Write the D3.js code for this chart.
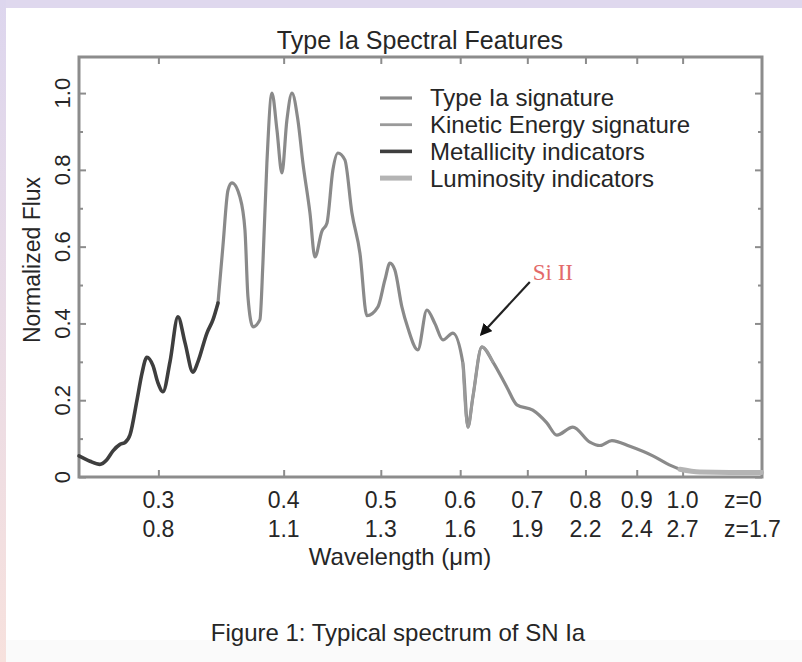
<!DOCTYPE html>
<html>
<head>
<meta charset="utf-8">
<script src="https://cdn.jsdelivr.net/npm/d3@7"></script>
<style>
  html, body { margin: 0; padding: 0; }
  body { width: 802px; height: 662px; overflow: hidden; }
  svg text { font-family: "Liberation Sans", Arial, Helvetica, sans-serif; fill: #262626; }
</style>
</head>
<body>
<svg id="chart" width="802" height="662"></svg>
<script>
// Rest-frame wavelength (µm) and normalized flux of the template spectrum
const wavelength = [
  0.250, 0.2564, 0.2623, 0.2665, 0.2703, 0.2747, 0.2779, 0.2811, 0.2856, 0.2889,
  0.2922, 0.2963, 0.2997, 0.3032, 0.3081, 0.3138, 0.3189, 0.3248, 0.3285, 0.3354,
  0.3401, 0.3440, 0.3479, 0.3520, 0.3552, 0.3618, 0.3660, 0.3685, 0.3728, 0.3788,
  0.3814, 0.3849, 0.3894, 0.3939, 0.3984, 0.4030, 0.4077, 0.4133, 0.4181, 0.4249,
  0.4298, 0.4367, 0.4418, 0.4479, 0.4531, 0.4604, 0.4679, 0.4766, 0.4843, 0.4967,
  0.5047, 0.5106, 0.5164, 0.5248, 0.5321, 0.5444, 0.5558, 0.5661, 0.5766, 0.5900,
  0.6037, 0.6107, 0.6177, 0.6306, 0.6467, 0.6679, 0.6834, 0.7089, 0.7321, 0.7491,
  0.7771, 0.8081, 0.8268, 0.8500, 0.8859, 0.9339, 0.9645, 0.9937, 1.0403, 1.1147,
  1.1990
];
const flux = [
  0.055, 0.041, 0.033, 0.045, 0.068, 0.085, 0.090, 0.110, 0.200, 0.270,
  0.312, 0.290, 0.245, 0.222, 0.300, 0.417, 0.350, 0.273, 0.300, 0.375,
  0.410, 0.453, 0.600, 0.747, 0.766, 0.729, 0.643, 0.470, 0.391, 0.410,
  0.557, 0.818, 1.000, 0.904, 0.792, 0.930, 1.000, 0.930, 0.818, 0.688,
  0.573, 0.640, 0.661, 0.800, 0.844, 0.826, 0.688, 0.583, 0.420, 0.443,
  0.513, 0.557, 0.539, 0.443, 0.388, 0.331, 0.435, 0.400, 0.357, 0.375,
  0.297, 0.130, 0.208, 0.339, 0.300, 0.234, 0.188, 0.174, 0.141, 0.109,
  0.130, 0.091, 0.082, 0.095, 0.080, 0.055, 0.035, 0.020, 0.013, 0.012,
  0.012
];

// Axis ticks
const xTickValues = [0.3, 0.4, 0.5, 0.6, 0.7, 0.8, 0.9, 1.0];
const xTickLabelsZ0 = ["0.3", "0.4", "0.5", "0.6", "0.7", "0.8", "0.9", "1.0"];
const xTickLabelsZ17 = ["0.8", "1.1", "1.3", "1.6", "1.9", "2.2", "2.4", "2.7"];
const redshiftLabels = ["z=0", "z=1.7"];
const yTickValues = [0, 0.2, 0.4, 0.6, 0.8, 1.0];
const yTickLabels = ["0", "0.2", "0.4", "0.6", "0.8", "1.0"];
const yMinorTickValues = [0.1, 0.3, 0.5, 0.7, 0.9];

// Spectral regions highlighted along the curve (wavelength ranges, µm)
const seriesNames = ["Type Ia signature", "Kinetic Energy signature", "Metallicity indicators", "Luminosity indicators"];
const seriesRanges = [[0.344, 0.995], [0.598, 0.650], [0.250, 0.344], [0.9937, 1.199]];
const seriesColors = ["#8a8a8a", "#9a9a9a", "#3e3e3e", "#b4b4b4"];
const seriesWidths = [3.2, 2.8, 3.6, 5];

// Si II annotation: arrow tail / tip in data units
const annotationText = "Si II";
const annotationTail = [0.704, 0.508];
const annotationTip = [0.630, 0.372];

const titleText = "Type Ia Spectral Features";
const xTitle = "Wavelength (\u03bcm)";
const yTitle = "Normalized Flux";
const captionText = "Figure 1: Typical spectrum of SN Ia";

const W = 802, H = 662;
const plot = { left: 79, right: 762, top: 57, bottom: 477 };

const svg = d3.select("#chart");

// Page backdrop: lavender band top/left, white sheet
const defs = svg.append("defs");
const grad = defs.append("linearGradient").attr("id", "leftBand")
  .attr("x1", 0).attr("y1", 0).attr("x2", 0).attr("y2", 1);
grad.append("stop").attr("offset", "0%").attr("stop-color", "#ddd6ee");
grad.append("stop").attr("offset", "100%").attr("stop-color", "#f7e1dd");
const marker = defs.append("marker").attr("id", "arrowHead")
  .attr("viewBox", "0 0 10 10").attr("refX", 8).attr("refY", 5)
  .attr("markerWidth", 5.5).attr("markerHeight", 5.5).attr("orient", "auto")
  .attr("markerUnits", "strokeWidth");
marker.append("path").attr("d", "M0,0 L10,5 L0,10 Z").attr("fill", "#111");

svg.append("rect").attr("width", W).attr("height", H).attr("fill", "#ffffff");
svg.append("rect").attr("x", 0).attr("y", 0).attr("width", W).attr("height", 8).attr("fill", "#dfd8ee");
svg.append("rect").attr("x", 0).attr("y", 0).attr("width", 6).attr("height", H).attr("fill", "url(#leftBand)");
svg.append("rect").attr("x", 6).attr("y", 640).attr("width", W - 6).attr("height", 22).attr("fill", "#fafafa");

// Scales
const x = d3.scaleLog().domain([0.25, 1.2]).range([plot.left, plot.right]);
const y = d3.scaleLinear().domain([0, 1.094]).range([plot.bottom, plot.top]);

const frameColor = "#8c8c8c";

// Axes with inward ticks on all four sides
const axisBottom = d3.axisBottom(x).tickValues(xTickValues).tickSize(-7).tickFormat("");
const axisTop = d3.axisTop(x).tickValues(xTickValues).tickSize(-7).tickFormat("");
const axisLeft = d3.axisLeft(y).tickValues(yTickValues).tickSize(-7).tickFormat("");
const axisRight = d3.axisRight(y).tickValues(yTickValues).tickSize(-7).tickFormat("");
const axisLeftMinor = d3.axisLeft(y).tickValues(yMinorTickValues).tickSize(-4).tickFormat("");
const axisRightMinor = d3.axisRight(y).tickValues(yMinorTickValues).tickSize(-4).tickFormat("");

function styleAxis(g) {
  g.selectAll("path.domain").remove();
  g.selectAll("line").attr("stroke", frameColor).attr("stroke-width", 2);
}
svg.append("g").attr("transform", `translate(0,${plot.bottom})`).call(axisBottom).call(styleAxis);
svg.append("g").attr("transform", `translate(0,${plot.top})`).call(axisTop).call(styleAxis);
svg.append("g").attr("transform", `translate(${plot.left},0)`).call(axisLeft).call(styleAxis);
svg.append("g").attr("transform", `translate(${plot.right},0)`).call(axisRight).call(styleAxis);
svg.append("g").attr("transform", `translate(${plot.left},0)`).call(axisLeftMinor).call(styleAxis);
svg.append("g").attr("transform", `translate(${plot.right},0)`).call(axisRightMinor).call(styleAxis);

// Plot frame
svg.append("rect")
  .attr("x", plot.left).attr("y", plot.top)
  .attr("width", plot.right - plot.left).attr("height", plot.bottom - plot.top)
  .attr("fill", "none").attr("stroke", frameColor).attr("stroke-width", 3);

// Spectrum, drawn region by region
const points = wavelength.map((w, i) => ({ w, f: flux[i] }));
const line = d3.line().x(d => x(d.w)).y(d => y(d.f)).curve(d3.curveMonotoneX);

[0, 1, 2, 3].forEach(k => {
  const [lo, hi] = seriesRanges[k];
  const seg = points.filter(p => p.w >= lo - 1e-9 && p.w <= hi + 1e-9);
  svg.append("path")
    .datum(seg)
    .attr("d", line)
    .attr("fill", "none")
    .attr("stroke", seriesColors[k])
    .attr("stroke-width", seriesWidths[k])
    .attr("stroke-linejoin", "round")
    .attr("stroke-linecap", "round");
});

// Legend
const legend = svg.append("g");
seriesNames.forEach((name, i) => {
  const ly = 98 + i * 26.7;
  legend.append("line")
    .attr("x1", 380).attr("x2", 412).attr("y1", ly).attr("y2", ly)
    .attr("stroke", seriesColors[i]).attr("stroke-width", seriesWidths[i]);
  legend.append("text")
    .attr("x", 430).attr("y", ly).attr("dy", "0.35em")
    .attr("font-size", 24).text(name);
});

// Si II annotation
svg.append("line")
  .attr("x1", x(annotationTail[0])).attr("y1", y(annotationTail[1]))
  .attr("x2", x(annotationTip[0])).attr("y2", y(annotationTip[1]))
  .attr("stroke", "#222").attr("stroke-width", 2.2)
  .attr("marker-end", "url(#arrowHead)");
svg.append("text")
  .attr("x", x(annotationTail[0]) + 3).attr("y", y(annotationTail[1]) - 2)
  .style("font-family", "'Liberation Serif', 'Times New Roman', serif")
  .style("fill", "#e36a6a")
  .attr("font-size", 23).text(annotationText);

// Y tick labels (rotated)
yTickValues.forEach((v, i) => {
  svg.append("text")
    .attr("transform", `translate(62,${y(v)}) rotate(-90)`)
    .attr("text-anchor", "middle").attr("dy", "0.35em")
    .attr("font-size", 22).text(yTickLabels[i]);
});

// X tick labels, two redshift rows
xTickValues.forEach((v, i) => {
  svg.append("text").attr("x", x(v)).attr("y", 500).attr("dy", "0.35em")
    .attr("text-anchor", "middle").attr("font-size", 23).text(xTickLabelsZ0[i]);
  svg.append("text").attr("x", x(v)).attr("y", 529).attr("dy", "0.35em")
    .attr("text-anchor", "middle").attr("font-size", 23).text(xTickLabelsZ17[i]);
});
svg.append("text").attr("x", 724).attr("y", 500).attr("dy", "0.35em")
  .attr("font-size", 23).text(redshiftLabels[0]);
svg.append("text").attr("x", 724).attr("y", 529).attr("dy", "0.35em")
  .attr("font-size", 23).text(redshiftLabels[1]);

// Titles
svg.append("text").attr("x", 420).attr("y", 40).attr("dy", "0.35em")
  .attr("text-anchor", "middle").attr("font-size", 25).text(titleText);
svg.append("text").attr("x", 400).attr("y", 557).attr("dy", "0.35em")
  .attr("text-anchor", "middle").attr("font-size", 24).text(xTitle);
svg.append("text")
  .attr("transform", `translate(32,260) rotate(-90)`)
  .attr("text-anchor", "middle").attr("dy", "0.35em")
  .attr("font-size", 23).text(yTitle);
svg.append("text").attr("x", 398).attr("y", 633).attr("dy", "0.35em")
  .attr("text-anchor", "middle").attr("font-size", 24).text(captionText);
</script>
</body>
</html>
